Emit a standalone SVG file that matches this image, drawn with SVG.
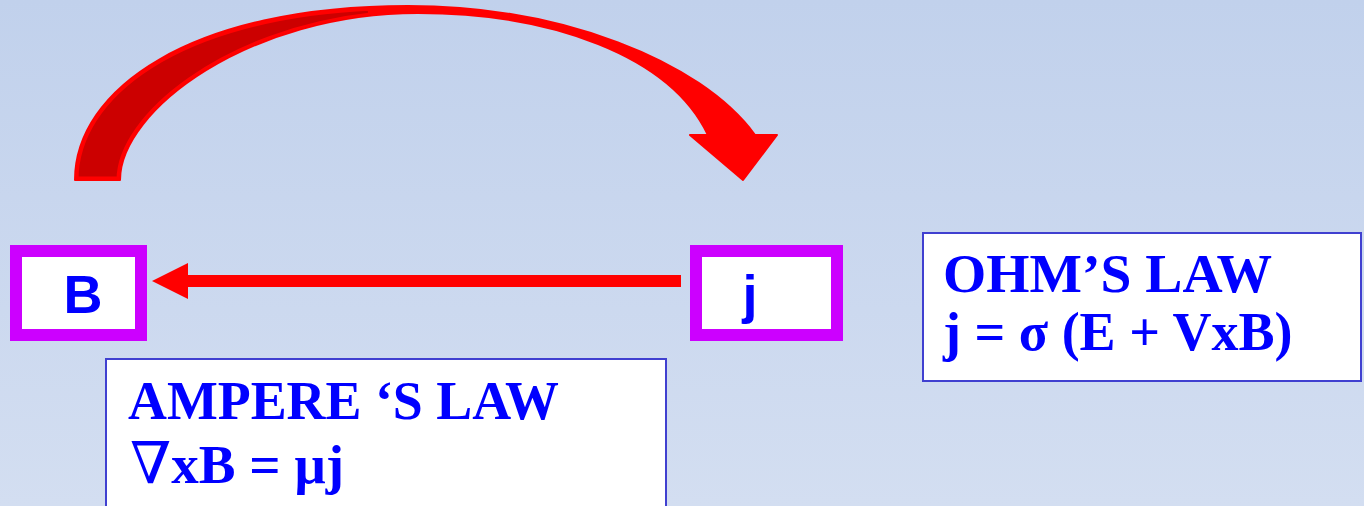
<svg xmlns="http://www.w3.org/2000/svg" width="1364" height="506" viewBox="0 0 1364 506">
<defs>
<linearGradient id="bg" x1="0" y1="0" x2="0" y2="1">
<stop offset="0" stop-color="#C1D1EC"/>
<stop offset="1" stop-color="#D3DEF1"/>
</linearGradient>
<clipPath id="bandclip">
<path d="M75,180 C75,90 190,6 408,6 C560,6 700,60 755,135 L777,135 L743,180 L690,135 L708,135 C670,55 550,13 418,13 C250,13 120,110 120,180 Z"/>
</clipPath>
<style>
.sym{font-family:"Liberation Sans",Arial,sans-serif;font-weight:bold;font-size:54px;fill:#0000FF;text-anchor:middle}
.law{font-family:"Liberation Serif","Times New Roman",serif;font-weight:bold;font-size:54px;fill:#0000FF}
.nabla{font-family:"DejaVu Serif","Liberation Serif",serif;font-weight:normal}
.node{fill:#FFFFFF;stroke:#CC00FF;stroke-width:12}
.lawbox{fill:#FFFFFF;stroke:#4040D0;stroke-width:2}
</style>
</defs>
<rect x="0" y="0" width="1364" height="506" fill="url(#bg)"/>
<g id="connectors">
<g id="curved-arrow">
<path d="M75,180 C75,90 190,6 408,6 C560,6 700,60 755,135 L777,135 L743,180 L690,135 L708,135 C670,55 550,13 418,13 C250,13 120,110 120,180 Z" fill="#FF0000" stroke="#FF0000" stroke-width="2" stroke-linejoin="round"/>
<path d="M75,180 C75,95 177,16 372,7 L371,16 C225,32 120,117 120,180 Z" fill="#CC0000" stroke="#FF0000" stroke-width="7" stroke-linejoin="round" clip-path="url(#bandclip)"/>
</g>
<g id="j-to-B">
<rect x="186" y="275" width="495" height="12" fill="#FF0000"/>
<polygon points="188,263 188,299 152,281" fill="#FF0000"/>
</g>
</g>
<g id="node-B">
<rect class="node" x="16" y="251" width="125" height="84"/>
<text class="sym" x="83" y="313">B</text>
</g>
<g id="node-j">
<rect class="node" x="696" y="251" width="141" height="84"/>
<text class="sym" x="750" y="313">j</text>
</g>
<g id="ampere">
<rect class="lawbox" x="106" y="359" width="560" height="160"/>
<text class="law" x="128" y="419" textLength="431" lengthAdjust="spacingAndGlyphs">AMPERE ‘S LAW</text>
<text class="law" x="130" y="483" textLength="214" lengthAdjust="spacingAndGlyphs"><tspan class="nabla" font-size="58">∇</tspan>xB = μj</text>
</g>
<g id="ohm">
<rect class="lawbox" x="923" y="233" width="438" height="148"/>
<text class="law" x="943" y="292" textLength="329" lengthAdjust="spacingAndGlyphs">OHM’S LAW</text>
<text class="law" x="943" y="350">j = σ (E + VxB)</text>
</g>
</svg>
